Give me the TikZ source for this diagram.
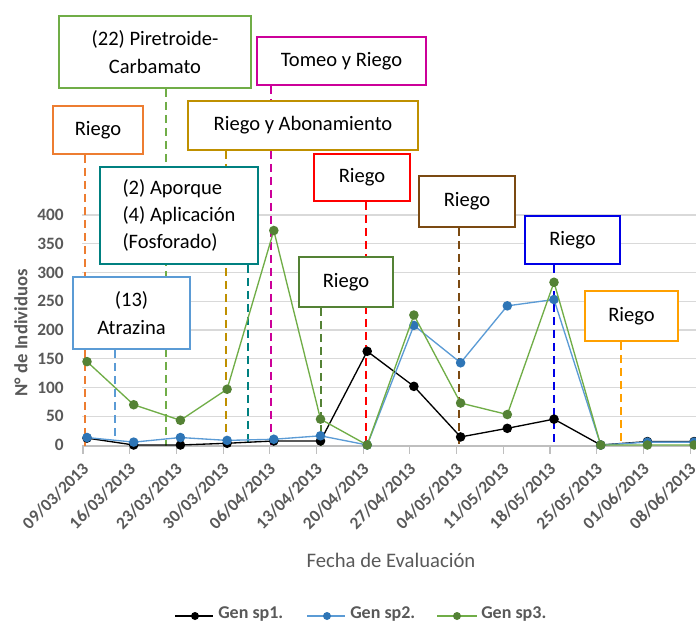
\documentclass[tikz,border=0pt]{standalone}
\usepackage{fontspec}
\setmainfont{Carlito}
\usetikzlibrary{backgrounds}
\definecolor{axgray}{HTML}{595959}
\definecolor{gridgray}{HTML}{D9D9D9}
\definecolor{axisgray}{HTML}{BFBFBF}
\definecolor{cOrange}{HTML}{ED7D31}
\definecolor{cLgreen}{HTML}{70AD47}
\definecolor{cMagenta}{HTML}{CC0099}
\definecolor{cGold}{HTML}{BF9000}
\definecolor{cRed}{HTML}{FF0000}
\definecolor{cBrown}{HTML}{7B4A12}
\definecolor{cBlue}{HTML}{0000E6}
\definecolor{cAmber}{HTML}{FFA000}
\definecolor{cDgreen}{HTML}{548235}
\definecolor{cTeal}{HTML}{008080}
\definecolor{cSky}{HTML}{5B9BD5}
\definecolor{sTwoLine}{HTML}{5B9BD5}
\definecolor{sTwoDot}{HTML}{2E75B6}
\definecolor{sThreeLine}{HTML}{70AD47}
\definecolor{sThreeDot}{HTML}{548235}
\begin{document}
\begin{tikzpicture}[x=0.75pt,y=-0.75pt,
  declare function={datex(\i)=87+46.7*\i; valy(\v)=445-0.575*\v;},
  annot/.style={draw, fill=white, line width=1.5pt, inner sep=0pt, align=center,
    font=\fontsize{15.4}{21}\selectfont, text=black},
  guide/.style={line width=1.6pt, dash pattern=on 6pt off 3.75pt},
  gridl/.style={gridgray, line width=0.8pt},
  axisl/.style={axisgray, line width=0.8pt},
  tickl/.style={text=axgray, font=\fontsize{13}{15}\selectfont\bfseries, inner sep=0pt},
  ytitle/.style={text=axgray, font=\fontsize{14}{16}\selectfont\bfseries, inner sep=0pt},
  xtitle/.style={text=axgray, font=\fontsize{15.5}{18}\selectfont, inner sep=0pt},
  legl/.style={text=axgray, font=\fontsize{13.5}{16}\selectfont\bfseries, inner sep=0pt},
  serie/.style={line width=1pt, line join=round}]
\useasboundingbox (0,0) rectangle (696,623);

% horizontal gridlines, axis and ticks
\begin{scope}[on background layer]
  \foreach \v in {50,100,...,400}
    \draw[gridl] (82,{valy(\v)}) -- (696,{valy(\v)});
  \draw[axisl] (82,446) -- (696,446);
  \foreach \i in {0,...,13}
    \draw[axisl] ({datex(\i)-4},446) -- ({datex(\i)-4},454);
\end{scope}

% y tick labels
\foreach \v in {0,50,...,400}
  \node[tickl, anchor=east] (yt\v) at (64,{valy(\v)}) {\v};

% date labels
\foreach \d [count=\i from 0] in {09/03/2013,16/03/2013,23/03/2013,30/03/2013,06/04/2013,13/04/2013,20/04/2013,27/04/2013,04/05/2013,11/05/2013,18/05/2013,25/05/2013,01/06/2013,08/06/2013}
  \node[tickl, anchor=north east, rotate=45] (dl\i) at ({datex(\i)-6},461) {\d};

% axis titles
\node[ytitle, rotate=90] (ytl) at (21,333) {N° de Individuos};
\node[xtitle] (xtl) at (391,560) {Fecha de Evaluación};

% annotation boxes
\node[annot, draw=cLgreen, minimum width=144pt, minimum height=54pt] (pir) at (155,52) {(22) Piretroide-\\Carbamato};
\node[annot, draw=cOrange, minimum width=67.5pt, minimum height=36pt] (ra) at (98,130) {Riego};
\node[annot, draw=cMagenta, minimum width=126.75pt, minimum height=36pt] (tom) at (341.5,61) {Tomeo y Riego};
\node[annot, draw=cGold, minimum width=172.5pt, minimum height=36.75pt] (abo) at (303,125.5) {Riego y Abonamiento};
\node[annot, draw=cRed, minimum width=72pt, minimum height=35.25pt] (rb) at (362,177.5) {Riego};
\node[annot, draw=cBrown, minimum width=72pt, minimum height=38.25pt] (rc) at (467,201.5) {Riego};
\node[annot, draw=cBlue, minimum width=71.25pt, minimum height=36pt] (rd) at (572.5,240) {Riego};
\node[annot, draw=cAmber, minimum width=69.75pt, minimum height=37.5pt] (re) at (631.5,316) {Riego};
\node[annot, draw=cDgreen, minimum width=70.5pt, minimum height=37.5pt] (rf) at (346,282) {Riego};
\node[annot, draw=cTeal, minimum width=118.5pt, minimum height=72.75pt, align=left,
  font=\fontsize{15.4}{20}\selectfont] (apo) at (179,215.5) {(2) Aporque\\(4) Aplicación\\(Fosforado)};
\node[annot, draw=cSky, minimum width=87.75pt, minimum height=54pt] (atr) at (131.5,313) {(13)\\Atrazina};

% dashed guides from each box down to the axis
\coordinate (e-pir) at (166,446);
\coordinate (e-ra) at (85,446);
\coordinate (e-tom) at (271,446);
\coordinate (e-abo) at (226,446);
\coordinate (e-rb) at (366,446);
\coordinate (e-rc) at (459,446);
\coordinate (e-rd) at (554,446);
\coordinate (e-re) at (621,442);
\coordinate (e-rf) at (321,446);
\coordinate (e-apo) at (248,446);
\coordinate (e-atr) at (115,438);
\begin{scope}[on background layer]
  \draw[guide, cLgreen] (pir.south -| e-pir) -- (e-pir);
  \draw[guide, cOrange] (ra.south -| e-ra) -- (e-ra);
  \draw[guide, cMagenta] (tom.south -| e-tom) -- (e-tom);
  \draw[guide, cGold] (abo.south -| e-abo) -- (e-abo);
  \draw[guide, cRed] (rb.south -| e-rb) -- (e-rb);
  \draw[guide, cBrown] (rc.south -| e-rc) -- (e-rc);
  \draw[guide, cBlue] (rd.south -| e-rd) -- (e-rd);
  \draw[guide, cAmber] (re.south -| e-re) -- (e-re);
  \draw[guide, cDgreen] (rf.south -| e-rf) -- (e-rf);
  \draw[guide, cTeal] (apo.south -| e-apo) -- (e-apo);
  \draw[guide, cSky] (atr.south -| e-atr) -- (e-atr);
\end{scope}

% data series
\foreach \v [count=\i from 0] in {12,0,0,3,7,7,163,102,14,29,45,0,6,6}
  \coordinate (pa\i) at ({datex(\i)},{valy(\v)});
\foreach \v [count=\i from 0] in {13,5,13,8,10,16,0,208,143,242,253,0,5,5}
  \coordinate (pb\i) at ({datex(\i)},{valy(\v)});
\foreach \v [count=\i from 0] in {145,70,43,97,373,45,0,226,73,53,283,0,0,0}
  \coordinate (pc\i) at ({datex(\i)},{valy(\v)});

\draw[serie, black] (pa0) \foreach \i in {1,...,13} {-- (pa\i)};
\foreach \i in {0,...,13} \fill[black] (pa\i) circle (3.6pt);
\draw[serie, sTwoLine] (pb0) \foreach \i in {1,...,13} {-- (pb\i)};
\foreach \i in {0,...,13} \fill[sTwoDot] (pb\i) circle (3.6pt);
\draw[serie, sThreeLine] (pc0) \foreach \i in {1,...,13} {-- (pc\i)};
\foreach \i in {0,...,13} \fill[sThreeDot] (pc\i) circle (3.6pt);

% legend
\coordinate (la1) at (175,616); \coordinate (lb1) at (213,616); \coordinate (lm1) at (195,616);
\coordinate (la2) at (307,616); \coordinate (lb2) at (345,616); \coordinate (lm2) at (327,616);
\coordinate (la3) at (437,616); \coordinate (lb3) at (477,616); \coordinate (lm3) at (457,616);
\draw[serie, black] (la1) -- (lb1); \fill[black] (lm1) circle (3pt);
\draw[serie, sTwoLine] (la2) -- (lb2); \fill[sTwoDot] (lm2) circle (3pt);
\draw[serie, sThreeLine] (la3) -- (lb3); \fill[sThreeDot] (lm3) circle (3pt);
\node[legl, anchor=west] (lt1) at (218,614) {Gen sp1.};
\node[legl, anchor=west] (lt2) at (350,614) {Gen sp2.};
\node[legl, anchor=west] (lt3) at (481,614) {Gen sp3.};
\end{tikzpicture}
\end{document}
